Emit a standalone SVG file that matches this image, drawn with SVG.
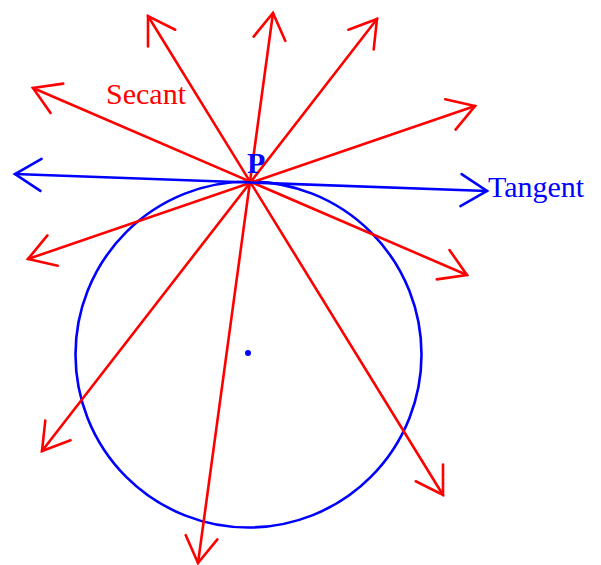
<svg xmlns="http://www.w3.org/2000/svg" width="601" height="565" viewBox="0 0 601 565">
<style>
.red{stroke:#ff0000;stroke-width:2.6;fill:none;stroke-linecap:round}
.blue{stroke:#0000ff;stroke-width:2.6;fill:none;stroke-linecap:round}
.lbl{font-family:"Liberation Serif","Times New Roman",serif;font-size:30px}
</style>
<defs>
<marker id="ar" markerUnits="userSpaceOnUse" viewBox="-32 -20 36 40" markerWidth="36" markerHeight="40" refX="0" refY="0" orient="auto-start-reverse" overflow="visible">
<path d="M-26,-16 L0,0 L-26,16" fill="none" stroke="#ff0000" stroke-width="2.6" stroke-linecap="round" stroke-linejoin="miter"/>
</marker>
<marker id="ab" markerUnits="userSpaceOnUse" viewBox="-32 -20 36 40" markerWidth="36" markerHeight="40" refX="0" refY="0" orient="auto-start-reverse" overflow="visible">
<path d="M-26,-16 L0,0 L-26,16" fill="none" stroke="#0000ff" stroke-width="2.6" stroke-linecap="round" stroke-linejoin="miter"/>
</marker>
</defs>
<g id="circle">
<circle cx="248.5" cy="354.5" r="173" class="blue"/>
<circle cx="248" cy="353" r="3" fill="#0000ff"/>
</g>
<g id="connectors">
<line class="red" x1="148" y1="16" x2="443" y2="495" marker-start="url(#ar)" marker-end="url(#ar)"/>
<line class="red" x1="273" y1="13" x2="198" y2="563" marker-start="url(#ar)" marker-end="url(#ar)"/>
<line class="red" x1="377" y1="19" x2="42" y2="451" marker-start="url(#ar)" marker-end="url(#ar)"/>
<line class="red" x1="475" y1="106" x2="28" y2="259" marker-start="url(#ar)" marker-end="url(#ar)"/>
<line class="red" x1="467" y1="275" x2="33" y2="88" marker-start="url(#ar)" marker-end="url(#ar)"/>
<line class="blue" x1="15" y1="174" x2="487" y2="191" marker-start="url(#ab)" marker-end="url(#ab)"/>
</g>
<g id="labels">
<text class="lbl" x="106" y="104" fill="#ff0000">Secant</text>
<text class="lbl" x="488" y="197" fill="#0000ff">Tangent</text>
<text class="lbl" x="247" y="173" fill="#0000ff" font-size="28" font-weight="bold">P</text>
</g>
</svg>
